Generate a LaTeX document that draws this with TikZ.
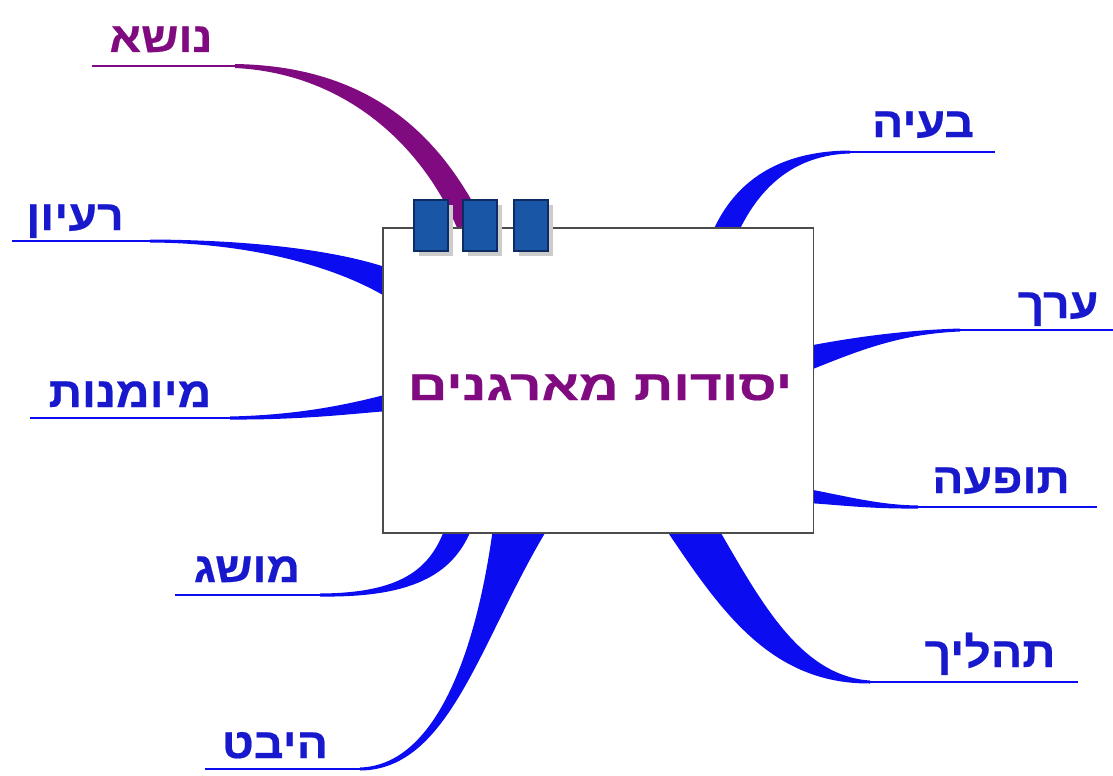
\documentclass[tikz,border=0pt]{standalone}
\usepackage{fontspec}
\TeXXeTstate=1
\newfontfamily\hebfont[Script=Hebrew,FakeStretch=1.1,BoldFeatures={FakeBold=0.5}]{Liberation Sans}
\newfontfamily\titlefont[Script=Hebrew,FakeStretch=1.3,BoldFeatures={FakeBold=0.5}]{Liberation Sans}
\usepackage{tikz}
\usetikzlibrary{positioning,calc}
\pgfdeclarelayer{bg}
\pgfsetlayers{bg,main}
\definecolor{twigblue}{RGB}{12,12,240}
\definecolor{leafblue}{RGB}{24,24,205}
\definecolor{topicpurple}{RGB}{128,10,128}
\definecolor{tabblue}{RGB}{26,86,166}
\definecolor{tabedge}{RGB}{14,44,100}
\begin{document}
\begin{tikzpicture}[x=0.025cm,y=-0.025cm,
	leaf/.style={font=\hebfont\bfseries\fontsize{30pt}{31pt}\selectfont, text=leafblue, inner sep=0pt, anchor=base},
	rule/.style={draw=twigblue, line width=1.9pt},
	twig/.style={fill=twigblue},
	hub/.style={draw=gray!60!black, line width=0.8pt, fill=white, minimum width=10.75cm, minimum height=7.625cm, inner sep=0pt},
	tab/.style={draw=tabedge, fill=tabblue, line width=0.8pt},
	tabshadow/.style={fill=gray!40}]
		\useasboundingbox (0,0) rectangle (1113,776);
		\node[hub] (hub) at (598,380.5) {};
		\node[leaf, text=topicpurple, font=\titlefont\bfseries\fontsize{30pt}{31pt}\selectfont] (title) at (600,400) {\beginR יסודות מארגנים\endR};
		\node[leaf, text=topicpurple] (noseh) at (161,52) {\beginR נושא\endR};
		\node[leaf] (raayon) at (75,230) {\beginR רעיון\endR};
		\node[leaf] (meyumanut) at (130,407) {\beginR מיומנות\endR};
		\node[leaf] (musag) at (247,582) {\beginR מושג\endR};
		\node[leaf] (heibet) at (275,758) {\beginR היבט\endR};
		\node[leaf] (beaya) at (923,137) {\beginR בעיה\endR};
		\node[leaf] (erekh) at (1058,318) {\beginR ערך\endR};
		\node[leaf] (tofaa) at (1001,493) {\beginR תופעה\endR};
		\node[leaf] (tahalikh) at (990,667) {\beginR תהליך\endR};
		\coordinate (noseh-a) at (92,66);
		\coordinate (noseh-b) at (235,66);
		\coordinate (raayon-a) at (12,241);
		\coordinate (raayon-b) at (150,241);
		\coordinate (meyumanut-a) at (30,418);
		\coordinate (meyumanut-b) at (230,418);
		\coordinate (musag-a) at (175,595);
		\coordinate (musag-b) at (320,595);
		\coordinate (heibet-a) at (205,769);
		\coordinate (heibet-b) at (360,769);
		\coordinate (beaya-a) at (995,152);
		\coordinate (beaya-b) at (850,152);
		\coordinate (erekh-a) at (1113,330);
		\coordinate (erekh-b) at (960,330);
		\coordinate (tofaa-a) at (1097,507);
		\coordinate (tofaa-b) at (918,507);
		\coordinate (tahalikh-a) at (1078,682);
		\coordinate (tahalikh-b) at (870,682);
		\begin{pgfonlayer}{bg}
		\fill[white] (0,0) rectangle (1113,776);
		\draw[rule, draw=topicpurple] (noseh-a) -- (noseh-b);
		\draw[rule] (raayon-a) -- (raayon-b);
		\draw[rule] (meyumanut-a) -- (meyumanut-b);
		\draw[rule] (musag-a) -- (musag-b);
		\draw[rule] (heibet-a) -- (heibet-b);
		\draw[rule] (beaya-a) -- (beaya-b);
		\draw[rule] (erekh-a) -- (erekh-b);
		\draw[rule] (tofaa-a) -- (tofaa-b);
		\draw[rule] (tahalikh-a) -- (tahalikh-b);
		\fill[topicpurple] ($(noseh-b)+(0,-2)$) .. controls (360,66) and (432,125) .. (478,212) -- (458,230) .. controls (420,140) and (340,73) .. ($(noseh-b)+(0,2)$) -- cycle;
		\fill[twig] ($(raayon-b)+(0,-1.5)$) .. controls (250,240) and (335,250) .. (388,268) -- (388,298) .. controls (335,266) and (250,243) .. ($(raayon-b)+(0,1.5)$) -- cycle;
		\fill[twig] ($(meyumanut-b)+(0,-1.5)$) .. controls (300,415) and (350,404) .. (388,394) -- (388,411) .. controls (350,414) and (300,420) .. ($(meyumanut-b)+(0,1.5)$) -- cycle;
		\fill[twig] ($(musag-b)+(0,-1.5)$) .. controls (400,593) and (430,570) .. (445,528) -- (472,528) .. controls (455,570) and (420,598) .. ($(musag-b)+(0,1.5)$) -- cycle;
		\fill[twig] ($(heibet-b)+(0,-1.5)$) .. controls (440,765) and (478,640) .. (493,528) -- (548,528) .. controls (480,640) and (450,770) .. ($(heibet-b)+(0,1.5)$) -- cycle;
		\fill[twig] ($(beaya-b)+(0,-1.5)$) .. controls (780,151) and (735,180) .. (712,233) -- (738,233) .. controls (760,186) and (795,155) .. ($(beaya-b)+(0,1.5)$) -- cycle;
		\fill[twig] ($(erekh-b)+(0,-1.5)$) .. controls (910,330) and (860,336) .. (808,346) -- (808,371) .. controls (860,350) and (900,334) .. ($(erekh-b)+(0,1.5)$) -- cycle;
		\fill[twig] ($(tofaa-b)+(0,-1.5)$) .. controls (880,505) and (850,497) .. (808,489) -- (808,503) .. controls (840,505) and (870,509) .. ($(tofaa-b)+(0,1.5)$) -- cycle;
		\fill[twig] ($(tahalikh-b)+(0,-1.5)$) .. controls (800,676) and (760,600) .. (718,528) -- (665,528) .. controls (720,610) and (770,684) .. ($(tahalikh-b)+(0,1.5)$) -- cycle;
		\end{pgfonlayer}
		\fill[tabshadow] (419,205) rectangle (453,256);
		\fill[tabshadow] (468,205) rectangle (502,256);
		\fill[tabshadow] (519,205) rectangle (553,256);
		\draw[tab] (414,200) rectangle (448,251);
		\draw[tab] (463,200) rectangle (497,251);
		\draw[tab] (514,200) rectangle (548,251);
	\end{tikzpicture}
\end{document}
